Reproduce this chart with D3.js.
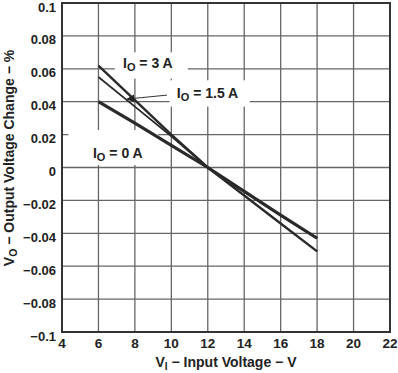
<!DOCTYPE html>
<html><head><meta charset="utf-8">
<script src="https://cdn.jsdelivr.net/npm/d3@7"></script>
<style>
body{margin:0;background:#fff;}
svg text{font-family:"Liberation Sans",Arial,sans-serif;font-weight:bold;fill:#222;}
</style></head>
<body><svg id="c" width="398" height="373"></svg>
<script>
const inputVoltage = [6, 8, 10, 12, 14, 16, 18];
const io3A   = [0.062, 0.041, 0.020, 0, -0.017, -0.034, -0.051];
const io15A  = [0.055, 0.037, 0.019, 0, -0.0145, -0.029, -0.043];
const io0A   = [0.040, 0.027, 0.0135, 0, -0.0145, -0.029, -0.043];
const xTicks = [4, 6, 8, 10, 12, 14, 16, 18, 20, 22];
const yTicks = [0.1, 0.08, 0.06, 0.04, 0.02, 0, -0.02, -0.04, -0.06, -0.08, -0.1];
const yTickLabels = ["0.1","0.08","0.06","0.04","0.02","0","\u22120.02","\u22120.04","\u22120.06","\u22120.08","\u22120.1"];

const svg = d3.select("#c");
const x = d3.scaleLinear().domain([4, 22]).range([62, 390]);
const y = d3.scaleLinear().domain([-0.1, 0.1]).range([332, 3]);

// grid
const g = svg.append("g");
g.selectAll("line.v").data(xTicks.slice(1, -1)).join("line")
  .attr("x1", d => x(d)).attr("x2", d => x(d)).attr("y1", y(0.1)).attr("y2", y(-0.1))
  .attr("stroke", "#666").attr("stroke-width", 1.3);
g.selectAll("line.h").data(yTicks.slice(1, -1)).join("line")
  .attr("y1", d => y(d)).attr("y2", d => y(d)).attr("x1", x(4)).attr("x2", x(22))
  .attr("stroke", "#666").attr("stroke-width", 1.3);

// label backgrounds
const boxes = [
  [6.9, 10.9, 0.070, 0.054],
  [9.9, 14.3, 0.053, 0.037],
  [4.35, 9.27, 0.0228, 0.0015]
];
svg.selectAll("rect.bg").data(boxes).join("rect")
  .attr("x", d => x(d[0])).attr("width", d => x(d[1]) - x(d[0]))
  .attr("y", d => y(d[2])).attr("height", d => y(d[3]) - y(d[2]))
  .attr("fill", "#fff");

// frame
svg.append("rect").attr("x", x(4)).attr("y", y(0.1))
  .attr("width", x(22) - x(4)).attr("height", y(-0.1) - y(0.1))
  .attr("fill", "none").attr("stroke", "#333").attr("stroke-width", 2);

// series
const series = [
  {vals: io0A, w: 3.2},
  {vals: io3A, w: 2.4},
  {vals: io15A, w: 1.8}
];
const line = d3.line().x(d => x(d[0])).y(d => y(d[1]));
series.forEach(s => {
  svg.append("path").attr("d", line(inputVoltage.map((v, i) => [v, s.vals[i]])))
    .attr("fill", "none").attr("stroke", "#2a2a2a").attr("stroke-width", s.w)
    .attr("stroke-linejoin", "round");
});

// tick labels
svg.selectAll("text.yt").data(yTicks).join("text")
  .attr("x", 56).attr("y", d => y(d) + 8.5).attr("text-anchor", "end")
  .attr("font-size", 13).text((d, i) => yTickLabels[i]);
svg.selectAll("text.xt").data(xTicks).join("text")
  .attr("x", d => x(d)).attr("y", 348).attr("text-anchor", "middle")
  .attr("font-size", 13.5).text(d => d);

// axis titles
const xt = svg.append("text").attr("x", 226).attr("y", 367).attr("text-anchor", "middle").attr("font-size", 14);
xt.append("tspan").text("V");
xt.append("tspan").attr("font-size", 10).attr("dy", 3).text("I");
xt.append("tspan").attr("dy", -3).text(" \u2212 Input Voltage \u2212 V");

const yt = svg.append("text").attr("transform", "translate(14,158) rotate(-90)").attr("text-anchor", "middle").attr("font-size", 14);
yt.append("tspan").text("V");
yt.append("tspan").attr("font-size", 10.5).attr("dy", 3).text("O");
yt.append("tspan").attr("dy", -3).text(" \u2212 Output Voltage Change \u2212 %");

// annotations
function ioLabel(xv, yv, txt) {
  const t = svg.append("text").attr("x", x(xv)).attr("y", y(yv)).attr("font-size", 14);
  t.append("tspan").text("I");
  t.append("tspan").attr("font-size", 11).attr("dy", 3).text("O");
  t.append("tspan").attr("dy", -3).text(" = " + txt);
}
ioLabel(7.35, 0.0605, "3 A");
ioLabel(10.3, 0.042, "1.5 A");
ioLabel(5.7, 0.0058, "0 A");

// arrow
svg.append("defs").append("marker").attr("id", "ah").attr("viewBox", "0 0 10 10")
  .attr("refX", 9).attr("refY", 5).attr("markerWidth", 10).attr("markerHeight", 8)
  .attr("markerUnits", "userSpaceOnUse").attr("orient", "auto")
  .append("path").attr("d", "M0,0L10,5L0,10Z").attr("fill", "#222");
svg.append("line").attr("x1", x(9.76)).attr("y1", y(0.044)).attr("x2", x(7.57)).attr("y2", y(0.0416))
  .attr("stroke", "#333").attr("stroke-width", 1).attr("marker-end", "url(#ah)");
</script></body></html>
